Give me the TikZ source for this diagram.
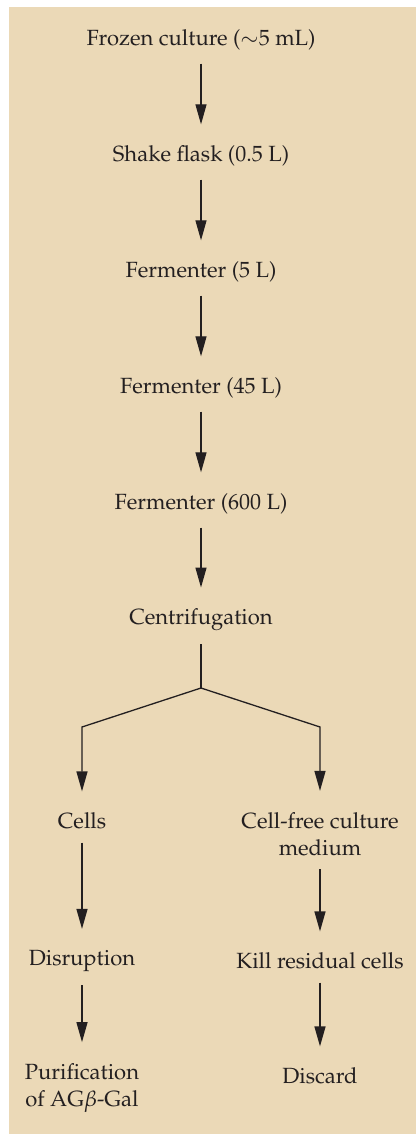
\documentclass[tikz,border=0pt]{standalone}
\usepackage[T1]{fontenc}
\usepackage{mathpazo}
\usetikzlibrary{arrows.meta, positioning}
\definecolor{panel}{RGB}{235,217,183}
\definecolor{ink}{RGB}{35,31,32}

\begin{document}
\begin{tikzpicture}[x=0.5pt, y=-0.5pt, font=\fontsize{11}{13.5}\selectfont, text=ink,
    stage/.style={inner xsep=2pt, inner ysep=6.5pt, align=center},
    link/.style={draw=ink, line width=0.65pt},
    flow/.style={link, -{Triangle[length=10pt, width=5.5pt]}, shorten >=4pt}]
    \useasboundingbox (0,0) rectangle (416,1134);
    \fill[panel] (9,7) rectangle (416,1134);

    % main line of the process
    \node[stage] (frozen) at (201,40) {Frozen culture ($\sim$5 mL)};
    \node[stage, below=58pt of frozen.center, anchor=center] (flask) {Shake flask (0.5 L)};
    \node[stage, below=58pt of flask.center, anchor=center] (ferm5) {Fermenter (5 L)};
    \node[stage, below=58pt of ferm5.center, anchor=center] (ferm45) {Fermenter (45 L)};
    \node[stage, below=58pt of ferm45.center, anchor=center] (ferm600) {Fermenter (600 L)};
    \node[stage, below=58pt of ferm600.center, anchor=center] (centri) {Centrifugation};

    % the split
    \coordinate[below=34pt of centri.center] (split);
    \coordinate[below left=19.5pt and 59.5pt of split] (lcorner);
    \coordinate[below right=19.5pt and 59.5pt of split] (rcorner);

    % two branches
    \node[stage, below=47pt of lcorner, anchor=center] (cells) {Cells};
    \node[stage, below=53.5pt of rcorner, anchor=center] (medium) {Cell-free culture\\medium};
    \node[stage, below=70pt of cells.center, anchor=center] (disrupt) {Disruption};
    \node[stage, below=63.5pt of medium.center, anchor=center] (kill) {Kill residual cells};
    \node[stage, below=63.5pt of disrupt.center, anchor=center] (purif) {Purification\\of AG$\beta$-Gal};
    \node[stage, below=57.5pt of kill.center, anchor=center] (discard) {Discard};

    \draw[flow] (frozen) -- (flask);
    \draw[flow] (flask) -- (ferm5);
    \draw[flow] (ferm5) -- (ferm45);
    \draw[flow] (ferm45) -- (ferm600);
    \draw[flow] (ferm600) -- (centri);
    \draw[link] (centri) -- (split);
    \draw[flow] (split) -- (lcorner) -- (cells);
    \draw[flow] (split) -- (rcorner) -- (medium);
    \draw[flow] (cells) -- (disrupt);
    \draw[flow] (disrupt) -- (purif);
    \draw[flow] (medium) -- (kill);
    \draw[flow] (kill) -- (discard);
\end{tikzpicture}
\end{document}
